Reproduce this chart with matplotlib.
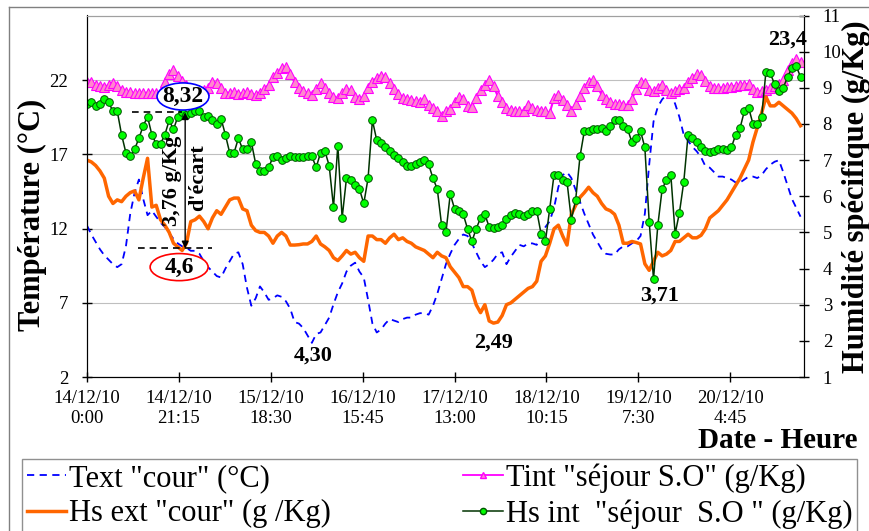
import numpy as np
import matplotlib
matplotlib.use("Agg")
import matplotlib.pyplot as plt
from matplotlib.lines import Line2D
from matplotlib.patches import Ellipse

plt.rcParams['font.family'] = ['Liberation Serif', 'DejaVu Serif']

# hourly readings, 14/12/10 0:00 -> 21/12/10 ~21:00
hours = np.arange(166)

tick_hours = np.arange(0, 160, 21.25)
tick_labels = ["14/12/10\n0:00", "14/12/10\n21:15", "15/12/10\n18:30", "16/12/10\n15:45",
               "17/12/10\n13:00", "18/12/10\n10:15", "19/12/10\n7:30", "20/12/10\n4:45"]

# Text "cour" (°C)
text_cour = [12.2, 11.6, 11.1, 10.6, 10.2, 9.9, 9.6, 9.4, 9.6, 10.8,
             13.0, 14.4, 15.3, 14.0, 12.9, 13.2, 12.8, 12.4, 12.1, 11.7,
             11.3, 11.0, 10.8, 10.7, 10.5, 10.5, 10.3, 9.8, 9.4, 9.1,
             8.8, 8.7, 9.3, 9.8, 10.3, 10.4, 9.6, 8.0, 6.8, 7.3,
             8.1, 7.7, 7.2, 7.3, 7.5, 7.4, 7.1, 6.6, 5.7, 5.6,
             5.3, 4.8, 4.3, 4.9, 5.0, 5.5, 6.0, 6.9, 7.7, 8.3,
             9.1, 9.5, 9.7, 9.1, 8.7, 7.2, 5.6, 5.0, 5.2, 5.6,
             5.9, 5.8, 5.7, 5.9, 6.0, 6.0, 6.2, 6.3, 6.3, 6.2,
             6.8, 7.6, 8.6, 9.6, 10.3, 10.9, 11.3, 11.6, 11.5, 11.0,
             10.4, 9.8, 9.4, 9.6, 9.9, 10.3, 10.4, 9.6, 10.1, 10.5,
             10.9, 10.8, 11.0, 11.0, 10.9, 11.6, 12.1, 12.5, 13.4, 14.8,
             15.6, 15.8, 15.4, 14.6, 13.8, 13.0, 12.3, 11.6, 11.1, 10.6,
             10.3, 10.25, 10.25, 10.6, 10.8, 10.8, 11.0, 11.15, 11.5, 13.0,
             16.3, 19.2, 20.2, 20.7, 21.0, 21.1, 20.4, 19.5, 18.3, 17.9,
             17.5, 17.2, 16.8, 16.2, 16.1, 15.8, 15.5, 15.5, 15.4, 15.3,
             15.1, 15.1, 15.3, 15.5, 15.5, 15.4, 15.6, 16.0, 16.3, 16.5,
             16.6, 15.8, 14.9, 14.0, 13.4, 12.8]

# Hs ext "cour" (g/Kg)
hs_ext = [7.0, 6.95, 6.85, 6.7, 6.5, 6.0, 5.8, 5.9, 5.85, 6.0,
          6.1, 6.15, 5.9, 6.5, 7.05, 5.7, 5.75, 5.35, 5.2, 5.0,
          4.7, 4.6, 4.5, 4.7, 5.3, 5.35, 5.45, 5.3, 5.1, 5.4,
          5.6, 5.5, 5.7, 5.9, 5.95, 5.95, 5.65, 5.6, 5.2, 5.05,
          5.0, 5.0, 4.9, 4.7, 4.9, 5.0, 4.9, 4.65, 4.65, 4.66,
          4.68, 4.68, 4.75, 4.9, 4.68, 4.6, 4.5, 4.3, 4.22, 4.35,
          4.5, 4.4, 4.45, 4.3, 4.2, 4.9, 4.9, 4.8, 4.8, 4.7,
          4.85, 4.95, 4.8, 4.85, 4.75, 4.7, 4.6, 4.55, 4.5, 4.4,
          4.3, 4.45, 4.35, 4.3, 4.05, 3.9, 3.75, 3.5, 3.5, 3.4,
          3.0, 2.78, 3.0, 2.55, 2.49, 2.52, 2.7, 3.0, 3.05, 3.15,
          3.25, 3.35, 3.45, 3.5, 3.65, 4.2, 4.35, 4.7, 5.1, 5.2,
          4.9, 4.65, 5.5, 5.75, 5.97, 6.1, 6.25, 6.1, 6.0, 5.8,
          5.65, 5.6, 5.5, 5.2, 4.7, 4.7, 4.75, 4.72, 4.68, 4.13,
          3.95, 4.2, 4.45, 4.35, 4.4, 4.5, 4.75, 4.75, 4.85, 4.95,
          4.85, 4.85, 4.92, 5.1, 5.4, 5.5, 5.6, 5.75, 5.9, 6.1,
          6.3, 6.5, 6.75, 7.0, 7.5, 7.9, 8.3, 8.75, 8.5, 8.5,
          8.6, 8.5, 8.4, 8.3, 8.15, 7.95]

# Tint "séjour S.O" (°C, left axis)
tint = [21.9, 21.85, 21.7, 21.6, 21.55, 21.65, 21.8, 21.6, 21.3, 21.2,
        21.2, 21.1, 21.1, 21.1, 21.15, 21.1, 21.1, 21.2, 21.9, 22.4,
        22.65, 22.3, 21.95, 21.7, 21.5, 21.4, 21.3, 21.35, 21.5, 21.85,
        21.8, 21.5, 21.15, 21.15, 21.2, 21.05, 21.1, 21.2, 21.05, 21.0,
        21.1, 21.4, 21.7, 22.2, 22.45, 22.8, 22.85, 22.4, 21.85, 21.45,
        21.25, 21.1, 21.0, 21.4, 21.8, 21.5, 21.1, 20.85, 20.8, 21.1,
        21.4, 21.3, 20.85, 20.7, 20.9, 21.5, 21.9, 22.15, 22.3, 22.2,
        21.8, 21.4, 21.05, 20.8, 20.7, 20.65, 20.6, 20.55, 20.75, 20.35,
        20.1, 19.95, 19.6, 19.9, 20.05, 20.5, 20.85, 20.7, 20.25, 20.2,
        20.8, 21.3, 21.7, 22.0, 21.6, 20.9, 20.5, 20.1, 20.0, 19.9,
        19.9, 19.95, 20.35, 20.1, 20.0, 19.95, 19.9, 19.8, 20.8, 21.0,
        20.65, 20.35, 19.95, 20.4, 20.9, 21.5, 21.9, 22.0, 21.6, 21.0,
        20.7, 20.55, 20.4, 20.4, 20.35, 20.3, 20.7, 21.4, 21.85, 21.8,
        21.3, 21.25, 21.45, 21.65, 21.35, 21.1, 21.25, 21.4, 21.5, 21.85,
        22.15, 22.4, 22.35, 21.95, 21.6, 21.5, 21.45, 21.5, 21.55, 21.55,
        21.6, 21.65, 21.7, 21.75, 21.4, 21.2, 21.25, 21.3, 21.45, 21.6,
        21.75, 22.0, 22.7, 23.15, 23.4, 23.2]

# Hs int "séjour S.O" (g/Kg)
hs_int = [8.55, 8.6, 8.5, 8.55, 8.7, 8.6, 8.35, 8.35, 7.7, 7.2,
          7.1, 7.3, 7.6, 7.95, 8.2, 7.7, 7.45, 7.45, 7.7, 8.1,
          7.85, 8.2, 8.32, 8.25, 8.3, 8.35, 8.35, 8.2, 8.22, 8.1,
          8.0, 8.15, 7.7, 7.2, 7.2, 7.6, 7.3, 7.3, 7.5, 6.9,
          6.7, 6.7, 6.8, 7.08, 7.1, 7.0, 7.05, 7.1, 7.08, 7.08,
          7.08, 7.12, 7.1, 6.8, 7.2, 7.25, 6.85, 5.7, 7.4, 5.4,
          6.5, 6.45, 6.3, 6.2, 5.8, 6.5, 8.1, 7.55, 7.48, 7.35,
          7.25, 7.15, 7.05, 6.95, 6.85, 6.85, 6.9, 6.95, 6.99, 6.88,
          6.5, 6.2, 5.2, 5.0, 6.06, 5.65, 5.58, 5.5, 5.1, 4.75,
          5.1, 5.4, 5.5, 5.15, 5.12, 5.15, 5.2, 5.37, 5.47, 5.55,
          5.5, 5.45, 5.5, 5.6, 5.6, 4.96, 4.75, 5.65, 6.6, 6.6,
          6.45, 6.4, 5.35, 5.9, 7.1, 7.8, 7.8, 7.86, 7.86, 7.9,
          7.8, 7.95, 8.12, 8.1, 7.95, 7.86, 7.5, 7.6, 7.8, 7.35,
          5.3, 3.71, 5.2, 6.2, 6.45, 6.6, 4.96, 5.55, 6.4, 7.7,
          7.6, 7.5, 7.35, 7.26, 7.22, 7.24, 7.3, 7.3, 7.27, 7.35,
          7.7, 7.88, 8.35, 8.45, 8.0, 8.0, 8.2, 9.45, 9.4, 9.1,
          8.92, 9.0, 9.3, 9.55, 9.6, 9.3]

# gap marked on the chart (g/Kg)
ecart_high = 8.32
ecart_low = 4.56

labels = ['Text "cour" (°C)', 'Hs ext "cour" (g /Kg)',
          'Tint "séjour S.O" (g/Kg)', 'Hs int  "séjour  S.O " (g/Kg)']

fig = plt.figure(figsize=(8.7, 5.31), dpi=100)
ax = fig.add_axes([87 / 870, 1 - 377 / 531, 717 / 870, 361.5 / 531])

ax.plot(hours, text_cour, color='#0000FF', lw=1.3, ls=(0, (4, 3)))
ax.plot(hours, tint, color='#FF00FF', lw=1.5, marker='^', ms=6.5,
        mfc='#FF88CC', mec='#FF00FF', mew=0.8)
ax.set_xlim(0, 165.8)
ax.set_ylim(2, 26.35)
ax.set_yticks([2, 7, 12, 17, 22])
ax.set_xticks(tick_hours)
ax.set_xticklabels(tick_labels)
ax.yaxis.grid(True, color='#BFBFBF', lw=0.8)
ax.set_axisbelow(True)

ax2 = ax.twinx()
ax2.plot(hours, hs_ext, color='#FF6600', lw=2.5)
ax2.plot(hours, hs_int, color='#003300', lw=1.1, marker='o', ms=5.5,
         mfc='#00FF00', mec='#005500', mew=0.7)
ax2.set_ylim(1, 11)
ax2.set_yticks(range(1, 12))

for a in (ax, ax2):
    a.spines['top'].set_color('#A0A0A0')
    a.tick_params(axis='both', direction='inout', length=7, width=1,
                  labelsize=13.5, pad=10)
ax.tick_params(axis='x', pad=6)

# min / max labels
i = int(np.argmin(text_cour))
ax.annotate('4,30', (hours[i], text_cour[i]), xytext=(1, -2), textcoords='offset points',
            ha='center', va='top', fontsize=16, fontweight='bold')
i = int(np.argmin(hs_ext))
ax2.annotate('2,49', (hours[i], hs_ext[i]), xytext=(0, -6.5), textcoords='offset points',
             ha='center', va='top', fontsize=16, fontweight='bold')
i = int(np.argmin(hs_int))
ax2.annotate('3,71', (hours[i], hs_int[i]), xytext=(4, -4.5), textcoords='offset points',
             ha='center', va='top', fontsize=16, fontweight='bold')
i = int(np.argmax(tint))
ax.annotate('23,4', (hours[i], tint[i]), xytext=(-6, 7), textcoords='offset points',
            ha='center', va='bottom', fontsize=16, fontweight='bold')

# gap annotation
ax2.hlines(ecart_high, 10.4, 21.9, colors='black', linestyles=(0, (4, 3)), lw=1.2, zorder=5)
ax2.hlines(ecart_low, 11.8, 28.9, colors='black', linestyles=(0, (4, 3)), lw=1.2, zorder=5)
ax2.annotate('', xy=(22.7, ecart_low), xytext=(22.7, ecart_high),
             arrowprops=dict(arrowstyle='<|-|>', color='black', lw=1,
                             mutation_scale=10, shrinkA=0, shrinkB=0), zorder=6)
ax2.add_patch(Ellipse((22.2, 8.76), 12, 0.75, fc='white', ec='#0000FF', lw=1.2, zorder=7))
ax2.text(22.2, 8.76, '8,32', ha='center', va='center', fontsize=17, fontweight='bold', zorder=8)
ax2.add_patch(Ellipse((21.3, 4.04), 13.4, 0.75, fc='white', ec='#FF0000', lw=1.2, zorder=7))
ax2.text(21.3, 4.04, '4,6', ha='center', va='center', fontsize=17, fontweight='bold', zorder=8)
ax2.text(19.7, 6.44, '3,76 g/Kg', rotation=90, ha='center', va='center',
         fontsize=16, fontweight='bold', zorder=8)
ax2.text(25.7, 6.52, "d'écart", rotation=90, ha='center', va='center',
         fontsize=16, fontweight='bold', zorder=8)

fig.text(32 / 870, 1 - 215 / 531, 'Température (°C)', rotation=90, ha='center', va='center',
         fontsize=22, fontweight='bold')
fig.text(856 / 870, 1 - 197 / 531, 'Humidité spécifique (g/Kg)', rotation=90, ha='center',
         va='center', fontsize=22, fontweight='bold')
fig.text(858 / 870, 1 - 440 / 531, 'Date - Heure', ha='right', va='center',
         fontsize=21, fontweight='bold')

# legend keys with smaller markers than the plotted series
handles = [
    Line2D([], [], color='#0000FF', lw=1.3, ls=(0, (4, 3))),
    Line2D([], [], color='#FF6600', lw=2.5),
    Line2D([], [], color='#FF00FF', lw=1.3, marker='^', ms=5, mfc='#FF88CC', mec='#FF00FF'),
    Line2D([], [], color='#003300', lw=1.1, marker='o', ms=4.5, mfc='#00FF00', mec='#005500'),
]
fig.legend(handles, labels, ncol=2, loc='upper left',
           bbox_to_anchor=(22 / 870, 0, 835 / 870, 1 - 459 / 531), mode='expand',
           fontsize=22, frameon=True, fancybox=False, edgecolor='#909090',
           handlelength=1.3, handletextpad=0.1, labelspacing=0.2, borderpad=0.15,
           borderaxespad=0, numpoints=1, framealpha=1)

# chart area border
fig.add_artist(Line2D([9 / 870, 9 / 870], [0, 1 - 7 / 531], transform=fig.transFigure,
                      color='#808080', lw=1))
fig.add_artist(Line2D([9 / 870, 1], [1 - 7 / 531, 1 - 7 / 531], transform=fig.transFigure,
                      color='#808080', lw=1))

fig.savefig('out.png', dpi=100)
